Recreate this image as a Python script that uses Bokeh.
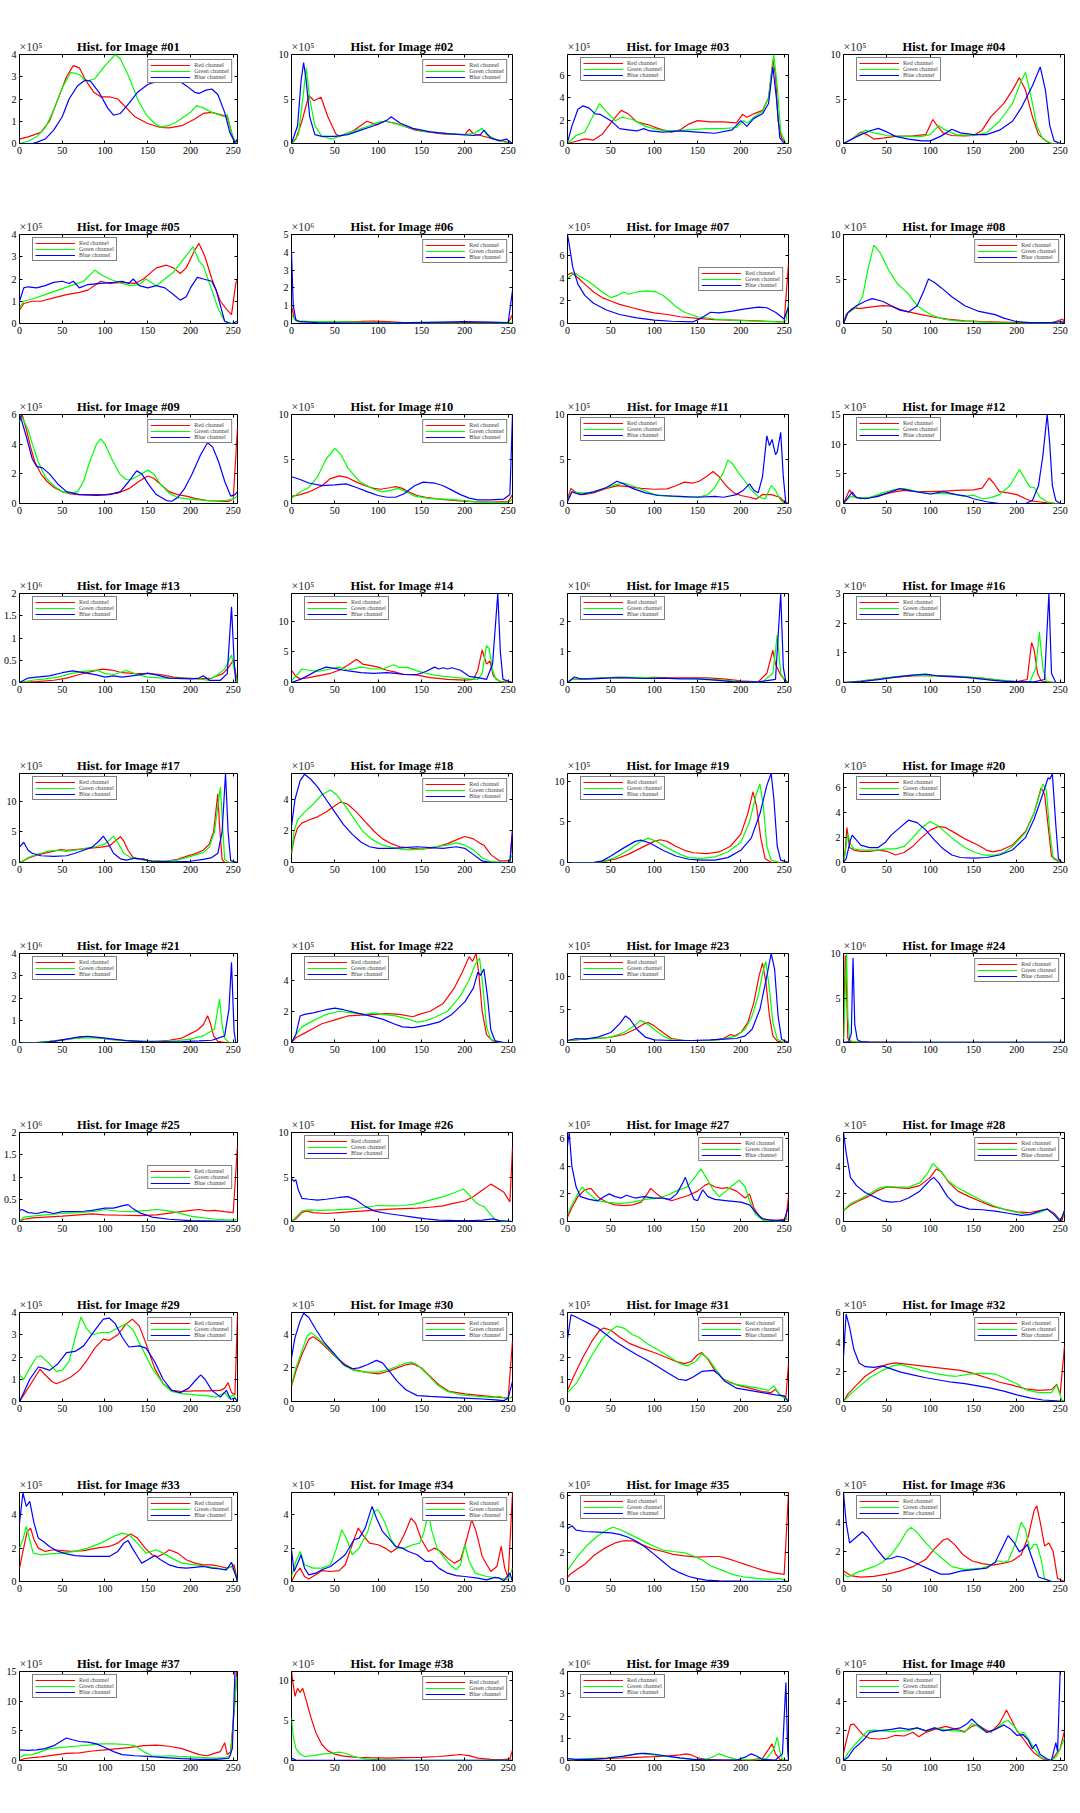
from bokeh.plotting import figure
from bokeh.layouts import gridplot
from bokeh.models import Range1d, FixedTicker, LinearAxis, Label, Legend, LegendItem, Title
from bokeh.embed import file_html
from bokeh.resources import INLINE

# ---------------- data (values in units of 10^EXP) ----------------
R01 = [(0,0.2),(10,0.3),(25,0.5),(35,1.0),(45,2.0),(55,3.0),(63,3.5),(70,3.4),(78,2.8),(87,2.3),(95,2.1),(105,2.1),(115,2.0),(125,1.6),(135,1.2),(150,0.9),(165,0.72),(175,0.7),(190,0.8),(205,1.1),(215,1.35),(225,1.4),(235,1.3),(243,1.2),(248,0.5),(252,0.05),(255,0.1)]
G01 = [(0,0),(10,0.1),(20,0.3),(30,0.7),(40,1.5),(50,2.5),(60,3.2),(70,3.1),(78,2.8),(88,2.9),(100,3.5),(112,4.0),(118,3.8),(128,3.0),(138,2.0),(148,1.3),(158,0.9),(165,0.75),(175,0.8),(185,1.0),(200,1.4),(207,1.7),(215,1.6),(225,1.4),(240,1.2),(243,1.3),(248,0.5),(252,0.05),(255,0.05)]
B01 = [(0,0),(15,0),(20,0.05),(30,0.2),(40,0.6),(50,1.2),(58,2.0),(68,2.6),(77,2.85),(83,2.8),(93,2.3),(103,1.6),(110,1.27),(118,1.35),(128,1.8),(138,2.3),(150,2.65),(165,2.85),(175,2.9),(185,2.85),(195,2.6),(205,2.3),(210,2.25),(218,2.4),(225,2.45),(232,2.2),(240,1.4),(246,0.5),(252,0.05),(255,0.2)]

R02 = [(0,0),(5,0.5),(12,2.5),(20,5.4),(26,4.8),(34,5.2),(42,3.0),(51,1.1),(55,0.8),(71,1.4),(87,2.5),(99,2.1),(107,2.5),(119,2.3),(143,1.5),(174,1.07),(200,1.0),(205,1.6),(210,1.1),(218,0.9),(238,0.4),(255,0)]
G02 = [(0,0),(8,1.0),(13,5.0),(17,8.5),(21,5.0),(27,2.0),(35,0.8),(47,0.5),(60,1.0),(75,1.5),(90,2.0),(100,2.4),(110,2.5),(120,2.2),(135,1.8),(150,1.4),(160,1.3),(180,1.1),(200,1.0),(210,1.1),(220,1.7),(225,1.0),(235,0.5),(245,0.2),(255,0)]
B02 = [(0,0),(7,2.0),(11,7.0),(14,9.1),(17,7.0),(21,3.0),(27,1.0),(35,0.8),(50,0.8),(65,1.0),(80,1.5),(95,2.0),(110,2.6),(115,3.0),(125,2.3),(140,1.7),(160,1.3),(180,1.1),(210,0.9),(218,1.0),(222,1.5),(230,0.6),(240,0.3),(248,0.5),(255,0)]

R03 = [(0,0),(10,0.2),(20,0.4),(30,0.3),(40,0.8),(52,2.0),(62,2.9),(70,2.6),(80,1.9),(90,1.7),(95,1.6),(105,1.3),(120,1.0),(130,1.2),(140,1.7),(150,2.0),(165,1.9),(180,1.9),(195,1.8),(202,2.55),(207,2.3),(215,2.6),(225,2.9),(232,4.0),(237,7.3),(240,6.0),(243,2.0),(247,0.5),(252,0),(255,0)]
G03 = [(0,0),(10,0.7),(20,1.0),(30,2.5),(37,3.5),(45,2.8),(55,2.0),(63,2.3),(75,2.1),(90,1.5),(105,1.2),(120,1.1),(140,1.2),(160,1.3),(180,1.3),(195,1.4),(203,2.0),(208,1.8),(215,2.3),(225,2.8),(232,4.0),(238,7.8),(242,5.0),(246,1.0),(252,0),(255,0)]
B03 = [(0,0.1),(5,1.5),(12,3.0),(18,3.3),(25,3.1),(32,2.6),(38,2.55),(50,2.0),(60,1.3),(70,1.2),(80,1.1),(88,1.3),(95,1.1),(110,1.0),(130,1.1),(150,1.0),(170,0.9),(190,1.2),(200,2.0),(207,1.5),(215,2.2),(225,2.6),(232,3.5),(237,6.7),(241,4.0),(245,0.5),(250,0),(255,0)]

R04 = [(0,0),(10,0.5),(20,1.3),(27,1.0),(35,0.5),(45,0.6),(60,0.8),(80,0.85),(95,1.0),(103,2.7),(108,2.0),(115,1.2),(125,0.9),(140,0.85),(150,0.9),(160,1.5),(170,3.0),(185,4.5),(195,6.0),(203,7.4),(210,6.0),(218,3.0),(225,1.0),(235,0.2),(240,0),(255,0)]
G04 = [(0,0),(10,0.5),(20,1.2),(25,1.5),(35,1.2),(50,0.9),(70,0.8),(90,0.8),(100,1.0),(110,2.0),(118,1.5),(130,1.0),(150,0.9),(165,1.2),(180,2.5),(195,4.5),(205,7.0),(210,8.0),(217,5.0),(223,2.0),(230,0.5),(240,0),(255,0)]
B04 = [(0,0),(10,0.5),(20,1.0),(30,1.4),(40,1.7),(50,1.3),(60,0.8),(75,0.5),(90,0.3),(100,0.3),(112,0.8),(125,1.6),(135,1.2),(150,1.0),(165,1.0),(180,1.5),(195,2.5),(205,4.0),(218,6.5),(227,8.6),(233,6.0),(238,2.0),(243,0.3),(250,0),(255,0)]

R05 = [(0,0.6),(5,0.9),(15,1.0),(25,1.0),(40,1.15),(55,1.3),(70,1.4),(80,1.5),(95,1.9),(105,1.8),(120,1.85),(135,1.8),(145,2.0),(160,2.5),(172,2.62),(180,2.5),(188,2.25),(195,2.5),(205,3.3),(210,3.6),(217,3.0),(225,2.0),(235,1.0),(243,0.6),(248,0.4),(253,1.8),(255,2.0)]
G05 = [(0,0.7),(5,1.0),(15,1.1),(30,1.3),(45,1.5),(60,1.7),(75,1.9),(88,2.4),(95,2.2),(105,2.0),(120,1.8),(130,1.7),(140,1.75),(148,2.0),(160,1.7),(170,2.0),(180,2.3),(190,2.8),(198,3.2),(203,3.45),(210,2.8),(215,2.6),(225,1.5),(232,0.7),(240,0.1),(245,0),(255,0)]
B05 = [(0,1.0),(5,1.6),(10,1.65),(20,1.6),(30,1.7),(40,1.85),(50,1.9),(58,1.8),(63,1.9),(70,1.6),(80,1.75),(95,1.8),(110,1.85),(120,1.9),(128,1.8),(133,2.0),(140,1.7),(150,1.6),(160,1.7),(170,1.6),(180,1.3),(188,1.05),(195,1.2),(200,1.6),(208,2.07),(215,2.0),(225,1.9),(230,1.5),(235,0.8),(240,0.1),(248,0),(255,0.1)]

R06 = [(0,1.0),(3,0.3),(8,0.1),(20,0.1),(50,0.1),(80,0.12),(95,0.14),(110,0.1),(130,0.05),(150,0.05),(200,0.05),(250,0.05),(255,0.5)]
G06 = [(0,0.5),(5,0.15),(20,0.12),(50,0.1),(100,0.05),(150,0.02),(200,0),(250,0),(255,0.1)]
B06 = [(0,4.0),(2,1.0),(5,0.2),(10,0.1),(30,0.05),(70,0.02),(120,0.03),(170,0.08),(200,0.1),(230,0.08),(250,0.05),(255,1.85)]

R07 = [(0,4.3),(5,4.5),(10,4.2),(20,3.5),(30,2.8),(40,2.3),(50,2.0),(60,1.7),(75,1.4),(90,1.1),(100,0.95),(115,0.8),(130,0.6),(150,0.45),(170,0.35),(190,0.3),(210,0.25),(230,0.2),(250,0.15),(255,5.3)]
G07 = [(0,4.0),(8,4.5),(12,4.3),(25,3.7),(40,2.8),(50,2.3),(58,2.5),(65,2.8),(70,2.6),(80,2.8),(92,2.9),(102,2.8),(110,2.5),(118,2.0),(125,1.5),(135,1.0),(150,0.6),(170,0.4),(190,0.3),(220,0.2),(245,0.15),(252,0.2),(255,1.8)]
B07 = [(0,7.9),(2,7.0),(6,5.0),(12,3.5),(20,2.5),(30,1.8),(45,1.2),(60,0.8),(80,0.5),(100,0.3),(120,0.2),(145,0.15),(155,0.5),(165,1.0),(175,0.95),(190,1.1),(205,1.3),(220,1.45),(230,1.4),(240,1.0),(250,0.4),(255,1.5)]

R08 = [(0,0),(3,1.0),(10,1.7),(20,1.7),(35,1.9),(45,2.0),(55,1.95),(65,1.6),(75,1.3),(90,1.0),(105,0.7),(120,0.5),(140,0.3),(160,0.2),(200,0.1),(240,0.05),(253,0.5),(255,0)]
G08 = [(0,0),(5,1.2),(15,1.8),(22,3.0),(28,6.0),(35,8.8),(42,8.0),(52,6.0),(62,4.5),(75,3.3),(85,2.0),(100,1.0),(115,0.5),(130,0.3),(150,0.2),(170,0.1),(200,0.05),(230,0),(255,0)]
B08 = [(0,0),(5,1.2),(15,2.0),(25,2.5),(33,2.8),(45,2.5),(55,2.0),(65,1.5),(75,1.3),(85,2.0),(92,3.5),(98,5.0),(105,4.6),(113,4.0),(125,3.0),(140,2.0),(155,1.4),(165,1.2),(175,1.0),(185,0.6),(200,0.2),(215,0.1),(240,0.1),(252,0.2),(255,0)]

R09 = [(0,5.5),(3,6.0),(8,5.0),(13,3.8),(18,2.8),(25,2.0),(32,1.5),(40,1.1),(50,0.8),(60,0.65),(70,0.6),(85,0.6),(100,0.6),(115,0.7),(128,1.0),(140,1.5),(150,1.85),(157,1.7),(165,1.3),(175,0.8),(185,0.6),(195,0.5),(205,0.35),(220,0.2),(235,0.15),(245,0.15),(250,0.3),(255,5.1)]
G09 = [(0,5.5),(3,5.8),(10,5.0),(15,4.0),(22,2.8),(30,1.8),(40,1.2),(50,0.8),(60,0.7),(68,0.8),(75,1.5),(82,2.8),(90,4.0),(95,4.35),(100,4.0),(108,3.0),(117,2.0),(125,1.6),(130,1.6),(140,1.9),(150,2.25),(157,2.0),(165,1.3),(175,0.7),(185,0.4),(200,0.3),(220,0.2),(240,0.2),(250,0.3),(255,0.5)]
B09 = [(0,6.0),(3,5.5),(8,4.5),(15,3.0),(20,2.5),(27,2.4),(35,2.0),(45,1.3),(55,0.8),(70,0.6),(90,0.55),(105,0.6),(118,0.8),(128,1.5),(137,2.2),(143,2.0),(152,1.2),(160,0.6),(172,0.2),(178,0.15),(185,0.4),(193,1.0),(202,2.0),(212,3.3),(220,4.1),(226,3.8),(233,2.8),(240,1.5),(247,0.5),(252,0.6),(255,0.8)]

R10 = [(0,0.8),(10,1.0),(20,1.3),(35,2.0),(45,2.8),(55,3.1),(65,2.9),(75,2.4),(85,2.0),(95,1.7),(103,1.6),(115,1.8),(120,1.9),(128,1.7),(135,1.3),(145,0.9),(155,0.7),(170,0.5),(180,0.4),(195,0.3),(210,0.2),(230,0.15),(250,0.2),(255,1.0)]
G10 = [(0,0.6),(10,1.3),(20,1.8),(30,3.0),(40,5.0),(50,6.2),(57,5.5),(65,4.0),(78,2.5),(95,1.6),(105,1.3),(115,1.5),(123,1.7),(133,1.3),(143,0.8),(160,0.55),(175,0.5),(190,0.4),(210,0.2),(230,0.1),(250,0.1),(255,0.5)]
B10 = [(0,3.0),(10,2.7),(20,2.3),(35,2.0),(50,2.1),(63,2.2),(75,1.8),(88,1.3),(100,0.9),(110,0.7),(120,0.7),(130,1.1),(142,2.0),(152,2.4),(165,2.3),(175,2.0),(185,1.5),(195,1.0),(205,0.6),(215,0.4),(230,0.4),(245,0.5),(252,1.0),(255,10.0)]

R11 = [(0,0.5),(4,1.7),(10,1.2),(18,1.0),(30,1.2),(45,1.7),(58,2.0),(70,1.9),(85,1.7),(100,1.6),(115,1.65),(125,2.0),(135,2.4),(145,2.3),(152,2.5),(160,3.0),(168,3.6),(175,3.0),(183,2.0),(192,1.2),(200,0.9),(210,0.7),(218,0.5),(225,1.0),(235,1.0),(245,0.7),(250,0.2),(255,0)]
G11 = [(0,0.3),(5,1.3),(15,1.2),(25,1.2),(40,1.6),(55,2.1),(65,2.3),(75,2.0),(90,1.4),(100,1.0),(120,0.8),(140,0.7),(155,0.8),(162,1.0),(170,1.8),(180,3.5),(185,4.9),(190,4.5),(197,3.5),(205,2.5),(212,1.5),(220,0.8),(228,0.5),(235,2.0),(240,1.5),(245,0.5),(250,0),(255,0)]
B11 = [(0,0.2),(5,1.3),(15,1.0),(30,1.3),(45,1.8),(57,2.5),(65,2.2),(75,1.7),(90,1.2),(105,0.9),(130,0.8),(150,0.7),(170,0.8),(180,0.7),(195,1.0),(203,1.5),(210,2.2),(215,1.5),(220,1.2),(225,3.0),(230,7.6),(233,6.5),(236,7.2),(240,5.5),(242,5.8),(246,8.0),(249,3.0),(252,0),(255,0)]

R12 = [(0,0),(7,2.3),(12,1.2),(20,0.8),(30,1.0),(45,1.5),(60,2.0),(70,2.2),(85,2.0),(100,2.0),(115,2.1),(130,2.2),(150,2.3),(160,2.6),(168,4.3),(173,3.5),(180,2.0),(190,1.8),(200,1.5),(210,0.8),(215,0.5),(225,0.3),(235,0.1),(245,0),(255,0)]
G12 = [(0,0),(8,1.2),(15,1.0),(30,1.0),(45,1.8),(60,2.4),(70,2.5),(85,2.0),(100,1.6),(115,1.7),(130,1.5),(140,1.2),(150,1.4),(160,0.8),(170,1.0),(180,1.5),(192,3.0),(203,5.7),(210,4.0),(215,2.8),(220,2.7),(227,1.0),(235,0.3),(245,0),(255,0)]
B12 = [(0,0),(10,1.9),(15,1.0),(25,0.8),(40,1.2),(55,2.0),(65,2.5),(80,2.1),(100,1.6),(115,2.0),(130,1.5),(140,1.3),(150,0.8),(165,0.3),(180,0),(210,0),(218,0.5),(225,3.0),(230,8.0),(235,15.0),(238,10.0),(241,3.0),(245,0.5),(250,0),(255,0)]

R13 = [(0,0),(20,0.02),(40,0.05),(55,0.1),(70,0.18),(85,0.25),(97,0.3),(108,0.28),(120,0.22),(135,0.2),(150,0.2),(165,0.18),(180,0.12),(195,0.1),(210,0.08),(225,0.1),(238,0.2),(245,0.35),(250,0.5),(253,0.2),(255,0)]
G13 = [(0,0),(15,0.05),(30,0.08),(45,0.12),(60,0.2),(75,0.25),(90,0.28),(100,0.2),(110,0.18),(125,0.27),(135,0.2),(150,0.12),(170,0.1),(190,0.1),(210,0.08),(220,0.05),(230,0.15),(240,0.3),(248,0.62),(252,0.2),(255,0)]
B13 = [(0,0),(10,0.1),(20,0.12),(35,0.15),(50,0.22),(62,0.26),(75,0.22),(90,0.17),(100,0.12),(110,0.15),(120,0.12),(140,0.17),(150,0.21),(160,0.17),(175,0.1),(200,0.08),(210,0.1),(215,0.15),(222,0.05),(235,0.05),(243,0.2),(248,1.7),(251,0.5),(253,0),(255,0)]

R14 = [(0,2.0),(5,1.0),(10,0.6),(20,0.8),(35,1.2),(45,1.5),(55,2.0),(65,2.8),(75,3.8),(82,3.0),(90,2.8),(100,2.5),(110,2.0),(120,1.7),(130,1.3),(145,1.2),(160,0.8),(180,0.5),(200,0.4),(210,0.5),(215,2.0),(220,5.3),(225,3.0),(229,3.5),(233,1.0),(240,0.2),(255,0)]
G14 = [(0,0.3),(5,1.0),(12,2.2),(20,2.0),(30,1.8),(45,2.2),(55,2.5),(65,2.0),(80,2.5),(95,2.2),(105,2.2),(118,2.9),(125,2.4),(133,2.5),(145,1.9),(155,1.5),(165,1.2),(175,1.0),(190,0.8),(205,0.6),(215,0.5),(220,1.5),(225,6.0),(228,5.5),(232,2.0),(236,0.5),(245,0),(255,0)]
B14 = [(0,0),(10,0.5),(20,1.2),(30,2.0),(40,2.5),(50,2.3),(60,2.0),(70,1.8),(80,1.6),(95,1.5),(110,1.6),(120,1.5),(130,1.3),(145,1.3),(155,1.8),(165,2.5),(170,2.2),(175,2.4),(180,2.2),(185,2.4),(195,2.0),(205,1.0),(215,0.8),(225,0.5),(232,3.0),(238,14.5),(241,5.0),(244,0.5),(255,0)]

R15 = [(0,0),(5,0.1),(20,0.12),(40,0.15),(60,0.17),(80,0.15),(100,0.17),(120,0.15),(140,0.15),(160,0.15),(180,0.12),(200,0.05),(220,0.02),(230,0.3),(237,1.05),(240,0.6),(245,0.3),(250,0.1),(255,0)]
G15 = [(0,0),(5,0.1),(20,0.12),(40,0.15),(60,0.18),(80,0.17),(100,0.15),(120,0.13),(140,0.13),(160,0.12),(180,0.08),(200,0.03),(225,0.02),(237,0.3),(242,1.55),(246,0.3),(250,0.1),(255,0)]
B15 = [(0,0),(8,0.18),(15,0.12),(30,0.12),(50,0.15),(70,0.15),(90,0.13),(110,0.14),(130,0.12),(150,0.12),(170,0.08),(190,0.03),(220,0.02),(240,0.1),(246,2.9),(249,0.5),(252,0),(255,0)]

R16 = [(0,0),(20,0.05),(40,0.12),(60,0.18),(80,0.22),(100,0.24),(120,0.2),(140,0.18),(160,0.15),(180,0.08),(200,0.03),(212,0.1),(217,1.35),(220,1.1),(224,0.3),(228,0.05),(240,0),(255,0)]
G16 = [(0,0),(20,0.05),(40,0.12),(60,0.2),(80,0.25),(100,0.22),(120,0.22),(140,0.2),(160,0.15),(180,0.08),(200,0.03),(215,0.02),(222,0.5),(226,1.7),(230,0.5),(234,0.05),(245,0),(255,0)]
B16 = [(0,0),(20,0.03),(40,0.1),(60,0.18),(80,0.25),(95,0.28),(110,0.22),(130,0.2),(150,0.15),(170,0.08),(190,0.03),(220,0.02),(232,0.1),(237,3.0),(240,0.3),(245,0),(255,0)]

R17 = [(0,0),(5,0.3),(10,0.7),(20,1.2),(35,1.7),(48,2.1),(55,2.0),(65,2.1),(80,2.3),(95,2.5),(105,2.7),(112,3.5),(118,4.2),(122,3.5),(127,2.0),(133,0.8),(140,0.5),(145,0.6),(150,0.3),(170,0.2),(185,0.5),(195,1.0),(205,1.4),(215,2.0),(222,3.0),(227,5.0),(232,11.2),(234,6.0),(237,0.5),(240,0),(255,0)]
G17 = [(0,0),(5,0.3),(10,0.8),(20,1.3),(35,1.9),(45,2.0),(55,1.8),(65,2.0),(80,2.4),(90,2.6),(100,3.0),(110,4.3),(116,3.0),(122,1.5),(130,0.8),(140,0.5),(150,0.3),(170,0.2),(185,0.4),(195,0.8),(205,1.2),(215,1.6),(222,2.5),(228,5.0),(235,12.3),(238,5.0),(240,0.5),(245,0),(255,0)]
B17 = [(0,2.5),(5,3.3),(10,2.0),(15,1.5),(25,1.1),(40,1.0),(55,1.1),(65,1.5),(75,2.0),(85,2.5),(93,3.5),(98,4.3),(103,3.3),(110,1.5),(118,0.6),(125,0.4),(135,0.7),(145,0.5),(155,0.2),(180,0.1),(200,0.2),(215,0.5),(225,0.8),(232,1.5),(237,5.0),(241,14.5),(244,5.0),(247,0.3),(255,0)]

R18 = [(0,0.6),(3,1.5),(7,2.2),(12,2.5),(20,2.7),(30,2.9),(40,3.2),(50,3.6),(57,3.85),(65,3.7),(75,3.2),(85,2.6),(95,2.0),(105,1.5),(115,1.2),(125,1.0),(140,0.9),(150,0.85),(165,0.95),(180,1.2),(193,1.5),(200,1.65),(210,1.5),(218,1.2),(222,1.1),(230,0.5),(240,0.1),(252,0.1),(255,2.1)]
G18 = [(0,0.6),(3,2.0),(7,2.7),(15,3.2),(25,3.7),(35,4.3),(45,4.6),(52,4.3),(62,3.6),(72,2.8),(82,2.0),(92,1.5),(105,1.1),(120,0.9),(135,0.8),(150,0.85),(165,1.0),(180,1.1),(190,1.25),(200,1.1),(210,0.8),(220,0.3),(230,0.05),(250,0),(255,0.5)]
B18 = [(0,2.3),(4,4.0),(10,5.2),(15,5.6),(22,5.3),(30,4.8),(40,4.0),(50,3.2),(60,2.4),(70,1.8),(80,1.3),(90,1.0),(100,0.9),(115,0.9),(130,0.95),(145,1.0),(160,0.95),(175,0.9),(190,1.0),(200,0.9),(210,0.5),(220,0.1),(230,0),(252,0),(255,2.0)]

R19 = [(0,0),(30,0),(40,0.1),(55,0.4),(70,1.0),(85,1.8),(100,2.6),(107,2.8),(115,2.6),(125,2.0),(135,1.5),(145,1.2),(160,1.1),(175,1.3),(188,2.0),(200,3.5),(208,6.0),(214,8.7),(218,7.0),(223,3.0),(228,0.5),(235,0),(255,0)]
G19 = [(0,0),(30,0),(40,0.1),(55,0.6),(70,1.5),(83,2.5),(93,3.0),(103,2.6),(115,1.8),(130,1.0),(140,0.6),(155,0.5),(170,0.7),(185,1.3),(200,2.5),(210,5.0),(218,8.5),(222,9.7),(226,7.0),(230,2.0),(235,0.3),(245,0),(255,0)]
B19 = [(0,0),(30,0),(40,0.2),(50,0.8),(65,1.8),(78,2.6),(85,2.75),(95,2.4),(110,1.5),(125,0.8),(140,0.4),(155,0.3),(170,0.3),(185,0.6),(200,1.5),(212,3.0),(222,6.0),(230,9.5),(235,10.96),(238,8.0),(242,2.0),(246,0.3),(255,0)]

R20 = [(0,0),(2,1.0),(4,2.8),(7,1.2),(12,1.0),(20,0.9),(30,0.9),(40,1.0),(50,0.9),(60,0.6),(70,0.8),(80,1.3),(90,2.0),(100,2.6),(110,2.9),(118,2.8),(128,2.4),(140,1.9),(155,1.4),(165,1.0),(172,0.85),(182,1.0),(195,1.4),(210,2.5),(220,4.0),(228,6.0),(232,5.5),(236,3.0),(240,0.5),(250,0),(255,0)]
G20 = [(0,0),(2,0.8),(5,2.3),(8,1.5),(12,1.1),(20,1.0),(30,1.0),(40,1.0),(50,1.1),(60,1.1),(70,1.3),(80,2.0),(90,2.8),(100,3.3),(108,3.0),(118,2.4),(128,1.8),(140,1.2),(152,0.8),(162,0.6),(175,0.6),(185,0.8),(195,1.3),(210,2.4),(220,4.0),(230,6.3),(234,5.8),(238,2.5),(242,0.3),(250,0),(255,0)]
B20 = [(0,0),(3,0.3),(8,1.8),(10,2.2),(15,1.8),(20,1.4),(30,1.2),(40,1.2),(48,1.6),(55,2.2),(65,2.8),(75,3.4),(85,3.2),(95,2.6),(105,1.8),(115,1.1),(125,0.6),(135,0.4),(150,0.35),(165,0.4),(180,0.6),(195,1.0),(210,2.0),(220,3.5),(230,5.5),(236,6.8),(238,6.7),(241,7.1),(245,3.0),(248,0.3),(252,0),(255,0)]

R21 = [(0,0),(20,0),(35,0.05),(50,0.12),(65,0.2),(78,0.25),(90,0.22),(105,0.15),(120,0.1),(140,0.05),(160,0.05),(175,0.1),(190,0.2),(200,0.4),(208,0.55),(215,0.8),(220,1.2),(223,0.9),(227,0.3),(232,0.05),(240,0),(255,0)]
G21 = [(0,0),(20,0),(35,0.05),(50,0.1),(65,0.18),(80,0.22),(95,0.2),(110,0.12),(130,0.07),(150,0.05),(170,0.05),(185,0.08),(200,0.15),(215,0.3),(228,0.6),(234,1.95),(237,0.8),(240,0.2),(245,0),(255,0)]
B21 = [(0,0),(25,0),(40,0.05),(55,0.15),(70,0.25),(80,0.28),(95,0.22),(110,0.15),(125,0.08),(145,0.04),(170,0.03),(190,0.04),(210,0.07),(225,0.1),(240,0.3),(245,1.5),(248,3.6),(251,0.5),(253,0),(255,0)]

R22 = [(0,0),(5,0.3),(15,0.6),(25,0.9),(35,1.2),(50,1.45),(65,1.7),(80,1.75),(95,1.8),(110,1.85),(125,1.8),(140,1.65),(150,1.85),(160,2.0),(175,2.5),(188,3.5),(197,4.5),(205,5.5),(209,5.2),(213,5.7),(216,4.5),(220,2.0),(225,0.5),(232,0.1),(245,0),(255,0)]
G22 = [(0,0),(5,0.5),(12,1.0),(25,1.4),(40,1.8),(55,2.0),(70,1.9),(85,1.8),(95,1.9),(105,1.8),(120,1.7),(135,1.5),(145,1.3),(155,1.4),(165,1.6),(180,2.0),(195,3.0),(205,4.0),(212,5.0),(217,5.4),(221,3.5),(225,1.0),(230,0.2),(240,0),(255,0)]
B22 = [(0,0),(5,0.5),(10,1.7),(15,1.8),(25,1.9),(40,2.1),(50,2.2),(60,2.1),(75,1.9),(90,1.7),(105,1.5),(118,1.2),(128,1.0),(140,0.95),(155,1.1),(170,1.3),(185,1.8),(200,2.6),(210,3.5),(215,4.5),(218,4.3),(222,4.7),(226,3.0),(230,0.8),(235,0.1),(245,0),(255,0)]

R23 = [(0,0.3),(10,0.4),(20,0.6),(35,0.6),(50,0.8),(65,1.2),(78,2.0),(88,2.8),(93,3.0),(100,2.5),(110,1.5),(120,0.6),(135,0.3),(150,0.3),(165,0.3),(180,0.6),(188,1.2),(193,1.0),(200,1.5),(208,3.0),(215,6.0),(221,10.0),(225,12.0),(229,9.0),(233,4.0),(237,1.0),(242,0.2),(250,0),(255,0)]
G23 = [(0,0.3),(10,0.4),(20,0.5),(35,0.6),(50,0.8),(65,1.5),(77,2.5),(84,3.3),(90,3.0),(100,2.0),(110,1.0),(120,0.4),(140,0.3),(160,0.3),(175,0.4),(185,0.7),(195,1.0),(205,2.0),(213,4.0),(220,7.0),(226,11.0),(229,12.2),(233,8.0),(237,3.0),(242,0.5),(250,0),(255,0)]
B23 = [(0,0.3),(10,0.6),(20,0.5),(35,0.8),(50,1.5),(60,2.8),(67,4.0),(72,3.5),(80,2.0),(90,0.8),(100,0.4),(120,0.3),(145,0.3),(165,0.4),(180,0.5),(195,0.6),(205,1.0),(213,2.0),(222,5.0),(230,10.0),(235,13.4),(239,11.0),(243,4.0),(247,0.5),(255,0)]

R24 = [(0,0),(2,9.8),(3,8.0),(5,0.5),(8,0.1),(15,0.05),(50,0.05),(100,0.02),(150,0.02),(200,0.02),(255,0.02)]
G24 = [(0,0),(2,6.0),(3.5,10.0),(5,3.0),(7,0.3),(10,0.1),(20,0.05),(50,0.03),(100,0.02),(255,0.02)]
B24 = [(0,0),(6,0.1),(9,1.0),(11,9.5),(13,2.0),(16,0.3),(20,0.1),(30,0.05),(60,0.02),(255,0.02)]

R25 = [(0,0),(5,0.05),(15,0.08),(30,0.1),(50,0.12),(70,0.15),(85,0.17),(100,0.15),(120,0.14),(140,0.13),(160,0.15),(180,0.2),(200,0.25),(210,0.27),(220,0.24),(228,0.25),(240,0.22),(250,0.2),(255,1.7)]
G25 = [(0,0),(5,0.1),(15,0.12),(30,0.15),(50,0.18),(70,0.2),(90,0.23),(100,0.27),(115,0.23),(130,0.22),(150,0.25),(160,0.27),(170,0.25),(185,0.2),(200,0.12),(215,0.08),(230,0.05),(250,0.03),(255,0.05)]
B25 = [(0,0.25),(3,0.27),(10,0.2),(20,0.18),(30,0.22),(40,0.18),(50,0.22),(60,0.22),(75,0.23),(85,0.25),(100,0.3),(110,0.3),(120,0.35),(127,0.38),(132,0.3),(140,0.2),(155,0.1),(175,0.05),(200,0.02),(230,0.01),(255,0)]

R26 = [(0,0),(5,0.3),(12,1.0),(17,1.2),(25,1.0),(40,0.9),(55,1.0),(70,1.1),(85,1.2),(100,1.3),(115,1.4),(130,1.45),(145,1.5),(160,1.6),(175,1.75),(185,2.0),(200,2.3),(210,2.8),(220,3.5),(230,4.2),(237,3.8),(245,3.3),(252,2.2),(255,8.3)]
G26 = [(0,0),(5,0.5),(12,1.2),(20,1.3),(35,1.25),(50,1.3),(70,1.4),(85,1.6),(100,1.8),(115,1.75),(130,1.8),(145,2.0),(160,2.4),(175,2.8),(187,3.2),(198,3.65),(205,3.0),(212,2.2),(218,1.8),(222,1.7),(228,1.0),(235,0.2),(245,0),(255,0)]
B26 = [(0,4.8),(3,4.5),(5,4.7),(8,3.5),(12,2.6),(20,2.5),(30,2.4),(40,2.5),(55,2.7),(65,2.8),(75,2.4),(85,1.7),(95,1.2),(110,0.9),(125,0.7),(140,0.5),(155,0.3),(170,0.15),(190,0.1),(210,0.1),(220,0.15),(233,0.3),(240,0.1),(250,0.05),(255,0)]

R27 = [(0,0.3),(5,1.0),(12,1.8),(20,2.3),(27,2.4),(35,1.8),(45,1.4),(55,1.2),(65,1.15),(75,1.2),(85,1.4),(92,2.0),(96,2.4),(103,2.0),(110,1.7),(120,1.5),(130,1.7),(140,1.9),(150,2.2),(158,2.6),(163,2.75),(170,2.5),(178,2.4),(185,2.45),(195,2.2),(205,1.7),(210,2.0),(215,1.0),(222,0.3),(230,0.1),(245,0.1),(252,0.2),(255,1.8)]
G27 = [(0,0.5),(5,1.2),(12,2.0),(17,2.5),(25,2.0),(35,1.5),(45,1.4),(60,1.3),(75,1.4),(90,1.6),(105,1.7),(115,1.9),(125,2.2),(138,2.5),(148,3.3),(154,3.8),(160,3.2),(168,2.3),(175,1.8),(183,2.2),(192,2.7),(198,3.0),(205,2.5),(210,1.5),(217,0.5),(225,0.1),(245,0),(255,0.2)]
B27 = [(0,5.5),(2,6.45),(5,4.0),(10,2.5),(15,1.8),(25,1.6),(35,1.5),(42,1.8),(48,2.0),(55,1.8),(62,1.7),(68,1.9),(78,1.7),(88,1.8),(100,1.7),(110,1.7),(118,1.6),(126,2.0),(133,2.8),(136,3.2),(140,2.5),(146,1.6),(150,1.5),(156,2.3),(162,1.8),(170,1.6),(185,1.5),(200,1.4),(210,1.2),(218,0.6),(225,0.2),(240,0.05),(250,0.1),(255,1.1)]

R28 = [(0,0.8),(8,1.2),(18,1.5),(28,1.8),(38,2.2),(50,2.5),(62,2.45),(75,2.4),(88,2.6),(100,3.2),(107,3.8),(113,3.6),(122,2.8),(132,2.2),(145,1.8),(160,1.4),(172,1.1),(185,0.9),(200,0.7),(215,0.65),(228,0.8),(235,0.9),(243,0.6),(250,0.1),(252,0),(255,0.8)]
G28 = [(0,0.8),(8,1.3),(18,1.6),(30,2.0),(40,2.4),(50,2.55),(60,2.5),(75,2.5),(88,2.8),(97,3.5),(103,4.2),(110,3.8),(120,3.0),(130,2.5),(145,2.0),(160,1.5),(175,1.1),(190,0.8),(205,0.6),(215,0.5),(228,0.7),(235,0.9),(243,0.5),(250,0.1),(255,0.6)]
B28 = [(0,6.45),(3,5.0),(8,3.2),(15,2.6),(25,2.1),(35,1.8),(45,1.5),(55,1.4),(65,1.45),(75,1.7),(88,2.2),(100,3.0),(104,3.2),(110,2.8),(120,1.8),(130,1.2),(145,0.9),(160,0.85),(175,0.75),(190,0.6),(205,0.45),(215,0.5),(228,0.8),(235,0.9),(243,0.5),(250,0),(255,0.8)]

R29 = [(0,0),(5,0.3),(15,0.9),(24,1.45),(30,1.2),(38,0.9),(43,0.8),(50,0.9),(60,1.1),(70,1.4),(78,1.8),(88,2.4),(98,2.8),(105,2.75),(115,3.0),(125,3.5),(132,3.7),(140,3.4),(148,2.6),(158,1.5),(168,0.8),(178,0.5),(190,0.45),(205,0.48),(220,0.48),(235,0.5),(240,0.6),(244,0.85),(248,0.4),(252,0.3),(255,3.9)]
G29 = [(0,1.2),(5,1.0),(12,1.5),(20,2.0),(25,2.05),(35,1.7),(43,1.35),(50,1.4),(58,1.8),(66,3.0),(72,3.8),(78,3.3),(85,3.0),(95,3.1),(105,3.1),(115,3.3),(125,3.5),(133,3.2),(142,2.5),(155,1.5),(168,0.8),(178,0.45),(190,0.35),(205,0.3),(220,0.25),(230,0.2),(240,0.4),(245,0.15),(250,0.3),(255,0)]
B29 = [(0,0),(5,0.4),(12,1.0),(22,1.55),(28,1.5),(35,1.4),(45,1.7),(55,2.2),(65,2.25),(75,2.5),(88,3.2),(98,3.7),(105,3.75),(112,3.5),(120,2.9),(128,2.45),(140,2.5),(148,2.4),(158,1.8),(168,1.0),(178,0.5),(188,0.4),(198,0.6),(207,1.0),(212,1.2),(217,1.0),(225,0.5),(235,0.2),(242,0.5),(247,0.1),(252,0.15),(255,0)]

R30 = [(0,0.9),(5,1.8),(12,2.8),(20,3.7),(25,3.85),(32,3.6),(42,3.1),(52,2.6),(62,2.2),(72,1.9),(85,1.75),(100,1.65),(112,1.8),(122,2.0),(133,2.2),(140,2.25),(150,2.0),(160,1.5),(170,1.0),(182,0.6),(200,0.45),(220,0.35),(240,0.25),(250,0.2),(255,3.6)]
G30 = [(0,1.0),(5,2.0),(12,3.0),(18,3.9),(23,4.1),(30,3.8),(42,3.2),(52,2.6),(62,2.1),(72,1.85),(85,1.75),(100,1.75),(112,1.9),(122,2.1),(133,2.3),(138,2.35),(145,2.2),(155,1.7),(168,1.0),(180,0.6),(195,0.4),(215,0.3),(230,0.25),(240,0.3),(250,0.15),(255,0.3)]
B30 = [(0,2.6),(4,3.8),(10,4.8),(14,5.25),(20,5.0),(28,4.3),(38,3.5),(50,2.8),(60,2.2),(70,1.95),(78,2.0),(88,2.2),(98,2.45),(105,2.3),(113,1.8),(122,1.2),(132,0.7),(145,0.35),(160,0.3),(180,0.25),(200,0.2),(220,0.15),(235,0.1),(245,0.05),(250,0.2),(255,1.2)]

R31 = [(0,0.5),(8,1.2),(18,2.0),(28,2.7),(37,3.2),(42,3.3),(50,3.2),(60,2.9),(72,2.6),(85,2.4),(100,2.2),(113,2.0),(125,1.8),(135,1.7),(143,1.8),(150,2.1),(155,2.2),(162,1.9),(170,1.4),(180,1.0),(195,0.75),(210,0.6),(225,0.45),(235,0.4),(240,0.55),(245,0.3),(252,0.2),(255,1.7)]
G31 = [(0,0.4),(10,0.8),(20,1.5),(30,2.2),(40,2.8),(50,3.2),(57,3.38),(65,3.3),(75,3.0),(82,2.9),(92,2.6),(105,2.3),(118,2.0),(130,1.7),(138,1.6),(148,1.8),(155,2.15),(163,1.9),(172,1.4),(180,1.0),(190,0.8),(205,0.7),(220,0.6),(232,0.5),(238,0.7),(245,0.3),(252,0.1),(255,0)]
B31 = [(0,2.8),(4,3.9),(10,3.8),(15,3.7),(25,3.5),(35,3.3),(45,3.0),(55,2.7),(67,2.4),(80,2.1),(92,1.85),(103,1.6),(115,1.3),(128,1.0),(137,0.95),(145,1.1),(155,1.35),(168,1.4),(175,1.2),(182,0.9),(195,0.6),(210,0.5),(225,0.4),(240,0.3),(250,0.25),(255,0)]

R32 = [(0,0),(5,0.5),(15,1.1),(25,1.7),(38,2.2),(50,2.5),(60,2.6),(75,2.5),(90,2.4),(105,2.3),(120,2.2),(135,2.1),(150,1.9),(165,1.6),(180,1.3),(195,1.1),(210,0.85),(225,0.75),(240,0.8),(246,1.15),(250,0.5),(255,3.7)]
G32 = [(0,0),(8,0.5),(18,1.0),(30,1.6),(45,2.1),(57,2.4),(65,2.5),(75,2.35),(90,2.1),(105,1.9),(120,1.75),(130,1.7),(145,1.85),(160,1.9),(175,1.85),(185,1.6),(200,1.2),(210,0.8),(225,0.6),(240,0.6),(246,1.1),(252,0.1),(255,0)]
B32 = [(0,3.0),(3,5.9),(7,5.0),(12,3.5),(18,2.6),(25,2.35),(35,2.3),(45,2.4),(55,2.2),(65,2.0),(80,1.8),(95,1.6),(110,1.45),(125,1.3),(140,1.2),(155,1.05),(170,0.9),(185,0.7),(200,0.45),(215,0.25),(230,0.1),(245,0.05),(255,0)]

R33 = [(0,0.8),(4,1.8),(9,3.0),(13,3.2),(17,2.5),(22,2.0),(30,1.8),(40,1.9),(50,1.85),(60,1.8),(75,1.85),(90,2.0),(105,2.1),(115,2.3),(125,2.7),(130,2.85),(138,2.6),(147,2.0),(155,1.6),(162,1.5),(170,1.7),(175,1.9),(185,1.7),(195,1.3),(205,1.1),(215,1.0),(225,1.0),(235,0.9),(242,0.8),(248,0.9),(251,1.0),(255,0)]
G33 = [(0,2.0),(4,2.5),(8,3.3),(12,2.5),(16,1.7),(25,1.6),(35,1.65),(50,1.7),(65,1.8),(80,2.0),(95,2.3),(110,2.7),(120,2.9),(128,2.8),(138,2.3),(148,1.7),(160,1.9),(168,1.7),(178,1.4),(190,1.1),(205,1.0),(220,0.9),(232,0.8),(240,0.7),(248,0.9),(252,0.5),(255,0)]
B33 = [(0,3.5),(4,5.3),(8,4.5),(12,4.8),(17,3.5),(22,2.6),(28,2.4),(35,2.1),(45,1.8),(55,1.65),(65,1.55),(80,1.5),(95,1.5),(105,1.5),(115,1.8),(122,2.3),(127,2.45),(132,2.0),(138,1.5),(143,1.1),(150,1.3),(158,1.55),(165,1.3),(175,1.0),(185,0.85),(195,0.8),(205,0.85),(215,0.9),(225,0.8),(235,0.75),(242,0.7),(248,1.15),(252,0.5),(255,0)]

R34 = [(0,0),(5,0.5),(10,0.8),(15,0.3),(20,0.15),(28,0.4),(35,0.65),(45,0.6),(55,0.65),(62,1.0),(72,2.5),(77,3.2),(82,2.8),(90,2.3),(100,2.2),(108,2.0),(115,1.75),(122,2.0),(130,2.8),(138,3.8),(143,3.5),(150,2.5),(158,1.8),(165,2.0),(172,1.8),(180,1.4),(188,1.1),(195,1.3),(202,2.5),(208,3.7),(213,3.0),(220,1.5),(230,0.6),(237,0.9),(242,2.1),(246,0.8),(250,0.2),(255,5.3)]
G34 = [(0,0.3),(5,1.2),(10,1.8),(15,1.0),(25,0.8),(35,0.8),(45,1.0),(52,2.0),(58,3.1),(64,2.5),(70,1.6),(78,2.0),(88,3.0),(95,4.2),(100,4.3),(108,3.5),(115,2.5),(122,2.0),(130,2.0),(140,2.2),(148,2.3),(153,3.0),(158,4.1),(162,3.0),(168,2.0),(175,1.5),(183,1.0),(190,0.7),(195,1.0),(200,2.2),(205,1.2),(212,0.5),(225,0.3),(240,0.2),(250,0.1),(255,0.8)]
B34 = [(0,1.9),(3,0.6),(8,1.2),(11,1.6),(15,0.8),(20,0.4),(28,0.5),(35,0.7),(45,0.9),(55,1.3),(62,1.6),(72,2.5),(78,2.6),(85,3.2),(93,4.5),(98,3.8),(105,3.0),(112,2.6),(120,2.1),(128,2.0),(135,1.8),(145,1.6),(155,1.2),(162,1.2),(170,0.8),(180,0.5),(190,0.35),(200,0.3),(215,0.2),(225,0.1),(235,0.25),(240,0.2),(245,0.05),(252,0.5),(255,0)]

R35 = [(0,0.3),(5,0.6),(12,0.9),(20,1.2),(30,1.8),(42,2.3),(55,2.7),(65,2.85),(75,2.85),(85,2.6),(97,2.3),(110,2.1),(122,1.9),(135,1.8),(150,1.7),(165,1.75),(175,1.75),(185,1.6),(195,1.4),(205,1.2),(215,1.0),(225,0.8),(238,0.6),(250,0.5),(255,6.2)]
G35 = [(0,0.8),(5,1.2),(12,1.8),(22,2.5),(35,3.2),(48,3.7),(53,3.8),(62,3.6),(72,3.3),(82,3.0),(95,2.6),(110,2.2),(122,2.1),(135,2.0),(145,1.8),(155,1.5),(165,1.1),(178,0.8),(190,0.5),(205,0.3),(220,0.2),(235,0.15),(245,0.2),(255,0)]
B35 = [(0,3.7),(5,3.9),(10,3.6),(20,3.5),(35,3.45),(50,3.4),(60,3.3),(70,3.1),(80,2.8),(90,2.4),(100,1.9),(110,1.4),(120,0.9),(130,0.6),(140,0.35),(150,0.2),(160,0.1),(175,0.05),(200,0.02),(255,0)]

R36 = [(0,0.7),(8,0.4),(20,0.3),(35,0.35),(50,0.5),(65,0.7),(80,1.0),(95,1.5),(105,2.2),(115,2.8),(120,2.9),(128,2.5),(138,1.8),(148,1.4),(160,1.2),(172,1.1),(182,1.2),(190,1.3),(195,1.4),(205,1.8),(213,3.0),(220,4.8),(223,5.1),(227,4.0),(232,2.4),(237,2.6),(242,2.0),(247,0.2),(255,0)]
G36 = [(0,0.5),(5,0.3),(15,0.6),(25,0.8),(35,1.0),(45,1.3),(55,1.8),(65,2.6),(73,3.4),(78,3.65),(85,3.3),(95,2.6),(105,2.0),(115,1.5),(125,1.0),(140,0.8),(160,0.9),(170,1.1),(178,1.4),(185,1.3),(190,1.4),(198,2.5),(205,4.0),(210,3.5),(215,2.1),(220,2.5),(223,2.5),(228,1.5),(232,0.2),(240,0),(255,0)]
B36 = [(0,6.0),(3,4.0),(7,2.6),(15,3.0),(22,3.35),(28,3.0),(38,2.2),(48,1.5),(55,1.55),(62,1.7),(70,1.6),(85,1.2),(100,0.8),(112,0.5),(122,0.5),(135,0.7),(150,0.8),(165,0.9),(175,1.3),(185,2.5),(190,3.1),(197,2.6),(203,2.0),(208,2.2),(212,2.5),(218,1.5),(225,0.3),(235,0.1),(240,0),(255,0)]

R37 = [(0,0),(5,0.3),(15,0.5),(25,0.6),(40,0.9),(55,1.2),(70,1.3),(85,1.6),(100,1.8),(115,2.0),(130,2.2),(145,2.5),(160,2.6),(175,2.4),(190,2.0),(200,1.5),(210,1.0),(220,0.8),(228,1.2),(235,1.5),(240,3.0),(243,1.0),(247,1.5),(252,10.0),(254,15.0),(255,15.0)]
G37 = [(0,0.5),(5,0.9),(15,1.0),(25,1.5),(35,2.0),(50,2.2),(65,2.4),(80,2.6),(95,2.8),(110,2.8),(125,2.7),(135,2.5),(145,1.5),(155,0.8),(165,0.7),(175,0.8),(185,0.7),(200,0.6),(215,0.5),(230,0.4),(240,0.5),(247,0.8),(252,10.0),(254,14.0),(255,14.0)]
B37 = [(0,1.8),(10,1.7),(20,1.8),(30,2.0),(40,2.5),(48,3.2),(55,3.8),(62,3.5),(70,3.2),(80,3.1),(90,2.8),(100,2.2),(110,1.5),(120,1.0),(135,0.8),(150,0.7),(170,0.5),(190,0.3),(210,0.2),(230,0.2),(240,0.3),(245,0.4),(249,2.0),(252,15.0),(255,15.0)]

R38 = [(0,11.1),(2,9.5),(4,8.0),(7,9.0),(10,8.5),(13,9.0),(17,7.5),(22,5.5),(28,3.5),(35,2.0),(42,1.2),(50,0.8),(60,0.55),(75,0.4),(90,0.35),(110,0.3),(130,0.35),(150,0.4),(170,0.5),(185,0.65),(195,0.75),(205,0.6),(215,0.3),(230,0.15),(245,0.1),(252,0.2),(255,1.3)]
G38 = [(0,5.3),(2,3.0),(5,1.5),(10,0.8),(15,0.5),(25,0.6),(35,0.8),(45,0.9),(55,1.05),(62,0.9),(72,0.5),(85,0.2),(100,0.1),(130,0.05),(180,0.03),(255,0.02)]
B38 = [(0,0.3),(5,0.05),(30,0.02),(100,0.01),(255,0.01)]

R39 = [(0,0),(10,0.03),(25,0.05),(40,0.07),(55,0.1),(70,0.13),(85,0.15),(100,0.17),(115,0.2),(130,0.25),(137,0.3),(143,0.25),(150,0.12),(160,0.05),(180,0.02),(210,0.02),(225,0.1),(232,0.5),(236,0.75),(240,0.3),(245,0.05),(255,0)]
G39 = [(0,0),(10,0.05),(25,0.08),(45,0.12),(65,0.2),(85,0.33),(100,0.25),(115,0.18),(130,0.1),(145,0.05),(160,0.05),(170,0.2),(175,0.3),(185,0.15),(195,0.05),(215,0.02),(230,0.1),(238,0.5),(242,1.05),(245,0.4),(248,0.05),(255,0)]
B39 = [(0,0.08),(10,0.05),(25,0.05),(45,0.1),(65,0.2),(80,0.3),(90,0.32),(100,0.28),(115,0.2),(130,0.12),(145,0.05),(165,0.02),(195,0.02),(205,0.15),(212,0.3),(218,0.2),(225,0.05),(240,0.02),(248,0.3),(252,3.5),(254,0.5),(255,0)]

R40 = [(0,0.5),(4,1.5),(8,2.4),(12,2.45),(17,2.1),(23,1.7),(30,1.5),(40,1.45),(50,1.5),(60,1.7),(70,1.65),(80,1.9),(87,1.6),(95,1.9),(105,2.1),(118,2.3),(130,2.1),(140,1.95),(148,2.3),(155,2.4),(163,2.1),(170,1.9),(180,2.5),(188,3.4),(195,2.6),(200,2.0),(207,1.5),(213,1.0),(220,0.5),(230,0.1),(240,0),(246,0.5),(250,0.8),(255,2.0)]
G40 = [(0,0),(5,0.5),(12,1.0),(20,1.5),(28,2.0),(35,2.05),(45,2.0),(55,1.95),(65,2.0),(75,2.0),(85,2.2),(95,2.0),(105,2.2),(115,2.1),(125,2.0),(133,2.0),(140,1.9),(148,2.5),(155,2.3),(165,1.9),(175,2.1),(185,2.6),(190,2.7),(197,2.3),(203,1.8),(208,1.9),(213,1.5),(220,0.8),(228,0.2),(240,0),(246,0.3),(250,0.8),(255,1.5)]
B40 = [(0,0),(5,0.2),(12,0.8),(18,1.1),(25,1.5),(30,1.9),(40,2.0),(55,2.1),(65,2.2),(75,2.1),(85,2.2),(95,2.0),(105,2.2),(115,2.0),(125,2.1),(135,2.2),(143,2.5),(148,2.8),(155,2.4),(165,1.9),(175,2.1),(185,2.4),(193,2.1),(200,1.7),(207,1.75),(213,1.4),(218,0.8),(222,1.1),(227,0.4),(235,0.1),(240,0),(245,1.2),(247,0.6),(250,6.0),(252,6.0)]

SERIES = [
    (R01, G01, B01), (R02, G02, B02), (R03, G03, B03), (R04, G04, B04),
    (R05, G05, B05), (R06, G06, B06), (R07, G07, B07), (R08, G08, B08),
    (R09, G09, B09), (R10, G10, B10), (R11, G11, B11), (R12, G12, B12),
    (R13, G13, B13), (R14, G14, B14), (R15, G15, B15), (R16, G16, B16),
    (R17, G17, B17), (R18, G18, B18), (R19, G19, B19), (R20, G20, B20),
    (R21, G21, B21), (R22, G22, B22), (R23, G23, B23), (R24, G24, B24),
    (R25, G25, B25), (R26, G26, B26), (R27, G27, B27), (R28, G28, B28),
    (R29, G29, B29), (R30, G30, B30), (R31, G31, B31), (R32, G32, B32),
    (R33, G33, B33), (R34, G34, B34), (R35, G35, B35), (R36, G36, B36),
    (R37, G37, B37), (R38, G38, B38), (R39, G39, B39), (R40, G40, B40),
]

YMAX = [4, 10, 7.8, 10, 4, 5, 7.9, 10, 6, 10, 10, 15, 2, 14.5, 2.9, 3,
        14.5, 5.65, 10.96, 7.15, 4, 5.7, 13.4, 10, 2, 10, 6.45, 6.45,
        4, 5.3, 4, 6, 5.33, 5.33, 6.23, 6, 15, 11.1, 4, 6]
YSTEP = [1, 5, 2, 5, 1, 1, 2, 5, 2, 5, 5, 5, 0.5, 5, 1, 1,
         5, 2, 5, 2, 1, 2, 5, 5, 0.5, 5, 2, 2,
         1, 2, 1, 2, 2, 2, 2, 2, 5, 5, 1, 2]
EXP = [5, 5, 5, 5, 5, 6, 5, 5, 5, 5, 5, 5, 6, 5, 6, 6,
       5, 5, 5, 5, 6, 5, 5, 6, 6, 5, 5, 5,
       5, 5, 5, 5, 5, 5, 5, 5, 5, 5, 6, 5]
LEG = ["TR", "TR", "TL", "TL", "TL", "TR", "R", "TR", "TR", "TR", "TL", "TL",
       "TL", "TL", "TL", "TL", "TL", "TR", "TL", "TL", "TL", "TL", "TL", "TR",
       "R", "TL", "TR", "TR", "TR", "TR", "TR", "TR", "TR", "TR", "TL", "TL",
       "TL", "TR", "TL", "TL"]
XTICKS = [0, 50, 100, 150, 200, 250]
CHANNELS = ["Red channel", "Green channel", "Blue channel"]
COLORS = ["#ff0000", "#00ff00", "#0000ff"]

# ---------------- layout ----------------
COL_W = [271, 276, 276, 257]
COL_LB = [16, 20, 20, 20]
FRAME_W = 221
ROW_H = [180, 180, 179, 180, 180, 179, 180, 180, 179, 180]
TOP_B = 54
FRAME_H = 89
SERIF = "Liberation Serif"
SUPS = {5: "\u2075", 6: "\u2076"}


def fmt(t):
    return ("%g" % t)


def make(i):
    r, c = divmod(i, 4)
    ymax = YMAX[i]
    step = YSTEP[i]
    n = int(ymax / step + 1e-9)
    yt = [round(k * step, 3) for k in range(n + 1)]
    w = COL_W[c]
    h = ROW_H[r]
    p = figure(width=w, height=h, output_backend="svg", toolbar_location=None, title=None,
               x_range=Range1d(0, 255), y_range=Range1d(0, ymax),
               min_border_left=COL_LB[c], min_border_right=w - COL_LB[c] - FRAME_W,
               min_border_top=TOP_B, min_border_bottom=h - TOP_B - FRAME_H,
               background_fill_color="white", border_fill_color="white")
    p.outline_line_color = "black"
    p.outline_line_width = 1
    p.xgrid.visible = False
    p.ygrid.visible = False

    for ax, ticks in ((p.xaxis[0], XTICKS), (p.yaxis[0], yt)):
        ax.ticker = FixedTicker(ticks=ticks)
        ax.major_label_overrides = {t: fmt(t) for t in ticks}
        ax.axis_line_color = None
        ax.major_tick_in = 3
        ax.major_tick_out = 0
        ax.minor_tick_line_color = None
        ax.major_tick_line_color = "black"
        ax.major_label_text_font = SERIF
        ax.major_label_text_font_size = "10px"
        ax.major_label_text_color = "black"
        ax.major_label_standoff = 3
    for side, ticks in (("right", yt), ("above", XTICKS)):
        ax = LinearAxis(ticker=FixedTicker(ticks=ticks), axis_line_color=None,
                        major_tick_in=3, major_tick_out=0, minor_tick_line_color=None,
                        major_tick_line_color="black", major_label_text_color=None,
                        major_label_text_font_size="1px", major_label_standoff=0)
        p.add_layout(ax, side)

    # title sits right above the top axis; the exponent label is added after it (outermost)
    p.add_layout(Title(text="Hist. for Image #%02d" % (i + 1), align="center",
                       text_font=SERIF, text_font_style="bold", text_font_size="12.5px",
                       text_color="black", standoff=1), "above")

    rends = []
    for data, col in zip(SERIES[i], COLORS):
        xs = [d[0] for d in data]
        ys = [d[1] for d in data]
        rends.append(p.line(xs, ys, line_color=col, line_width=1.2))

    if LEG[i] == "TL":
        loc = (13, FRAME_H - 6 - 21)
    else:
        loc = {"TR": "top_right", "R": "right"}[LEG[i]]
    lg = Legend(items=[LegendItem(label=lab, renderers=[rr]) for lab, rr in zip(CHANNELS, rends)],
                location=loc, border_line_color="black", border_line_width=1,
                background_fill_color="white", background_fill_alpha=1.0,
                label_text_font=SERIF, label_text_font_size="6px",
                glyph_width=40, glyph_height=6, label_height=6, label_standoff=4,
                spacing=0, padding=2, margin=5)
    p.add_layout(lg)

    p.add_layout(Label(x=0, y=ymax, x_units="data", y_units="data",
                       text="\u00d710" + SUPS[EXP[i]], text_font=SERIF, text_font_size="12px",
                       text_color="#333333", text_align="left", text_baseline="bottom",
                       x_offset=0, y_offset=1), "above")
    return p


figs = [make(i) for i in range(40)]
grid = [figs[k:k + 4] for k in range(0, 40, 4)]
g = gridplot(grid, toolbar_location=None)
open("out.html", "w").write(file_html(g, INLINE))
